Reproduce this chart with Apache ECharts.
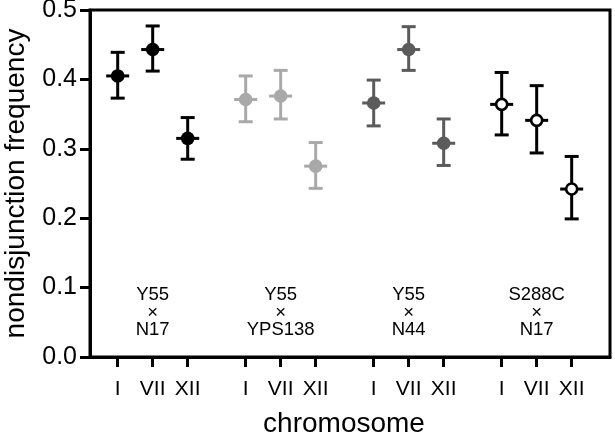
<!DOCTYPE html>
<html>
<head>
<meta charset="utf-8">
<script src="https://cdn.jsdelivr.net/npm/echarts@6/dist/echarts.min.js"></script>
<style>html,body{margin:0;padding:0;background:#fff}#c{width:615px;height:435px}</style>
</head>
<body>
<div id="c"></div>
<script>
const chromosomes = ['I', 'VII', 'XII'];
const crosses = ['Y55\n×\nN17', 'Y55\n×\nYPS138', 'Y55\n×\nN44', 'S288C\n×\nN17'];
const groupStarts = [1, 4.657, 8.314, 11.971];
const means = [
  [0.405, 0.443, 0.315],
  [0.371, 0.376, 0.275],
  [0.366, 0.443, 0.308],
  [0.364, 0.341, 0.242]
];
const lowers = [
  [0.373, 0.412, 0.285],
  [0.339, 0.343, 0.243],
  [0.333, 0.413, 0.276],
  [0.320, 0.294, 0.199]
];
const uppers = [
  [0.439, 0.477, 0.345],
  [0.405, 0.413, 0.309],
  [0.399, 0.476, 0.343],
  [0.410, 0.391, 0.289]
];
const yTicks = [0.0, 0.1, 0.2, 0.3, 0.4, 0.5];

const groupStyles = [
  { color: '#000000', fill: '#000000' },
  { color: '#a9a9a9', fill: '#a9a9a9' },
  { color: '#5b5b5b', fill: '#5b5b5b' },
  { color: '#000000', fill: '#ffffff' }
];

const xPositions = [];
const xLabelMap = {};
groupStarts.forEach(s => chromosomes.forEach((c, i) => {
  const p = +(s + i).toFixed(3);
  xPositions.push(p);
  xLabelMap[p] = c;
}));

const FONT = 'Liberation Sans, Arial, sans-serif';

const series = means.map((g, gi) => ({
  type: 'custom',
  data: g.map((m, i) => [xPositions[gi * 3 + i], m, lowers[gi][i], uppers[gi][i]]),
  renderItem: function (params, api) {
    const x = api.value(0), m = api.value(1), lo = api.value(2), hi = api.value(3);
    const c = api.coord([x, m]);
    const cl = api.coord([x, lo]);
    const ch = api.coord([x, hi]);
    const st = groupStyles[gi];
    const ls = { stroke: st.color, lineWidth: 3 };
    return {
      type: 'group',
      children: [
        { type: 'line', shape: { x1: c[0], y1: ch[1], x2: c[0], y2: cl[1] }, style: ls },
        { type: 'line', shape: { x1: c[0] - 7, y1: ch[1], x2: c[0] + 7, y2: ch[1] }, style: ls },
        { type: 'line', shape: { x1: c[0] - 7, y1: cl[1], x2: c[0] + 7, y2: cl[1] }, style: ls },
        { type: 'line', shape: { x1: c[0] - 11.5, y1: c[1], x2: c[0] + 11.5, y2: c[1] }, style: ls },
        { type: 'circle', shape: { cx: c[0], cy: c[1], r: st.fill === '#ffffff' ? 5.5 : 6.8 },
          style: { fill: st.fill, stroke: st.color, lineWidth: st.fill === '#ffffff' ? 2.6 : 0 } }
      ]
    };
  },
  z: 3
}));

series.push({
  type: 'scatter',
  symbolSize: 0,
  itemStyle: { opacity: 1 },
  data: crosses.map((t, gi) => ({ value: [xPositions[gi * 3 + 1], 0.064], name: t })),
  label: {
    show: true, position: 'inside',
    formatter: p => p.name,
    fontFamily: FONT, fontSize: 18.5, lineHeight: 17.7, color: '#000', opacity: 1
  },
  silent: true
});

const chart = echarts.init(document.getElementById('c'), null, { renderer: 'canvas' });
chart.setOption({
  animation: false,
  backgroundColor: '#fff',
  grid: { left: 90, right: 5, top: 10, bottom: 78, show: true, borderColor: '#000', borderWidth: 3, outerBoundsMode: 'none', containLabel: false },
  xAxis: {
    type: 'value', min: 0.209, max: 15.066,
    name: 'chromosome', nameLocation: 'middle', nameGap: 53,
    nameTextStyle: { fontFamily: FONT, fontSize: 28, color: '#000', padding: [0, 12, 0, 0] },
    axisLine: { show: true, lineStyle: { color: '#000', width: 3 } },
    axisTick: { show: true, customValues: xPositions, length: 10, lineStyle: { color: '#000', width: 3 } },
    axisLabel: { customValues: xPositions, formatter: v => xLabelMap[+(+v).toFixed(3)] || '', fontFamily: FONT, fontSize: 21, color: '#000', margin: 22 },
    splitLine: { show: false }
  },
  yAxis: {
    type: 'value', min: 0, max: 0.5, interval: 0.1,
    name: 'nondisjunction frequency', nameLocation: 'middle', nameGap: 60,
    nameTextStyle: { fontFamily: FONT, fontSize: 28, color: '#000' },
    axisLine: { show: true, lineStyle: { color: '#000', width: 3 } },
    axisTick: { show: true, length: 10, lineStyle: { color: '#000', width: 3 } },
    axisLabel: { customValues: yTicks, formatter: v => (+v).toFixed(1), fontFamily: FONT, fontSize: 25, color: '#000', margin: 13 },
    splitLine: { show: false }
  },
  series: series
});
</script>
</body>
</html>
